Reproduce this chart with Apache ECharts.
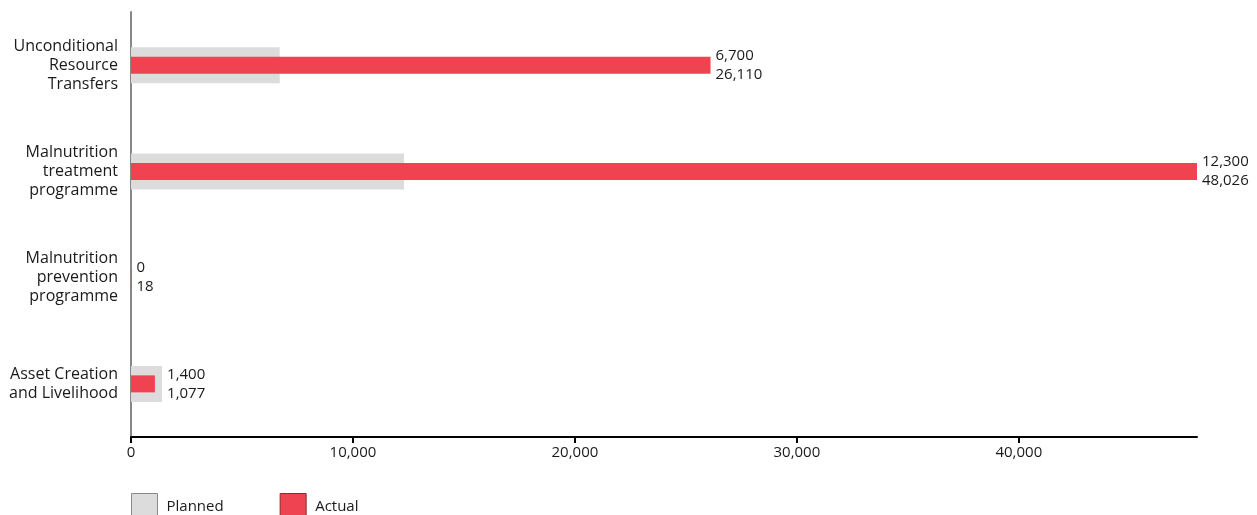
<!DOCTYPE html>
<html>
<head>
<meta charset="utf-8">
<script src="https://cdn.jsdelivr.net/npm/echarts@6/dist/echarts.min.js"></script>
<style>
  html, body { margin: 0; padding: 0; background: #fff; }
  #chart { width: 1257px; height: 515px; }
</style>
</head>
<body>
<div id="chart"></div>
<script>
// Beneficiaries by activity: planned vs actual
const categories = [
  'Unconditional\nResource\nTransfers',
  'Malnutrition\ntreatment\nprogramme',
  'Malnutrition\nprevention\nprogramme',
  'Asset Creation\nand Livelihood'
];
const planned = [6700, 12300, 0, 1400];
const actual = [26110, 48026, 18, 1077];

const fmt = v => v.toLocaleString('en-US');
const FONT = '"Open Sans", "Noto Sans", sans-serif';
const TEXT = '#1a1a1a';

// Show the combined label on whichever bar of the pair reaches further
const pairLabel = i => ({
  show: true,
  position: 'right',
  distance: 5,
  formatter: fmt(planned[i]) + '\n' + fmt(actual[i]),
  fontFamily: FONT,
  fontSize: 15,
  lineHeight: 19,
  color: TEXT
});

const plannedData = planned.map((v, i) => ({
  value: v,
  label: planned[i] >= actual[i] ? pairLabel(i) : { show: false }
}));
const actualData = actual.map((v, i) => ({
  value: v,
  label: actual[i] > planned[i] ? pairLabel(i) : { show: false }
}));

const chart = echarts.init(document.getElementById('chart'), null, { renderer: 'canvas' });
chart.setOption({
  animation: false,
  grid: { left: 131, right: 60, top: 12, bottom: 78, containLabel: false },
  legend: {
    left: 131,
    bottom: -5,
    padding: 0,
    itemWidth: 26,
    itemHeight: 26,
    itemGap: 56,
    textStyle: { fontFamily: FONT, fontSize: 15, color: TEXT, padding: [0, 0, 0, 4] },
    data: [
      { name: 'Planned', icon: 'rect', itemStyle: { color: '#dcdcdc', borderColor: '#8a8a8a', borderWidth: 1 } },
      { name: 'Actual', icon: 'rect', itemStyle: { color: '#ef4351', borderColor: '#8c2a33', borderWidth: 1 } }
    ]
  },
  xAxis: {
    type: 'value',
    min: 0,
    max: 'dataMax',
    interval: 10000,
    splitLine: { show: false },
    axisLine: { show: true, lineStyle: { color: '#000', width: 2 } },
    axisTick: { show: true, length: 6, lineStyle: { color: '#000', width: 2 } },
    axisLabel: {
      fontFamily: FONT, fontSize: 15, color: TEXT, margin: 8,
      showMaxLabel: false,
      formatter: v => fmt(v)
    }
  },
  yAxis: [
    {
      type: 'category',
      data: categories,
      inverse: true,
      axisLine: { show: true, lineStyle: { color: '#888', width: 2 } },
      axisTick: { show: false },
      axisLabel: {
        fontFamily: FONT, fontSize: 16, color: TEXT, margin: 13,
        align: 'right', lineHeight: 19
      }
    },
    {
      // companion axis so the narrow bars sit centred inside the wide ones
      type: 'category',
      data: categories,
      inverse: true,
      position: 'left',
      show: false
    }
  ],
  series: [
    {
      name: 'Planned',
      type: 'bar',
      yAxisIndex: 0,
      data: plannedData,
      barWidth: 36,
      itemStyle: { color: '#dcdcdc' },
      z: 1
    },
    {
      name: 'Actual',
      type: 'bar',
      yAxisIndex: 1,
      data: actualData,
      barWidth: 17,
      itemStyle: { color: '#ef4351' },
      z: 2
    }
  ]
});
</script>
</body>
</html>
